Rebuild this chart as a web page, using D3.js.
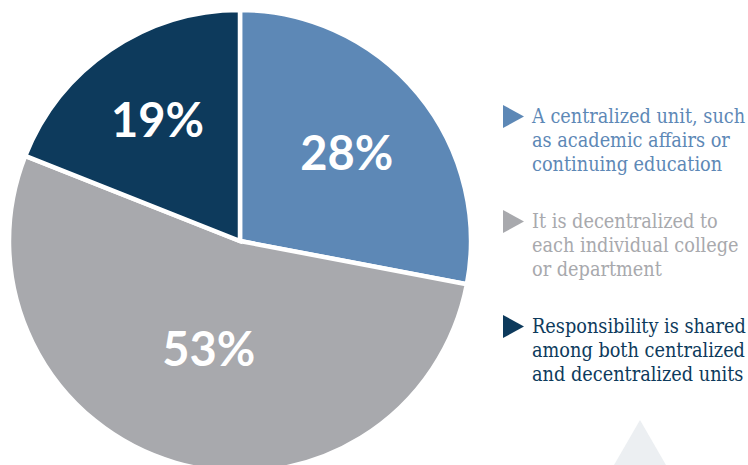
<!DOCTYPE html>
<html>
<head>
<meta charset="utf-8">
<script src="https://cdn.jsdelivr.net/npm/d3@7/dist/d3.min.js"></script>
<style>
  html, body { margin: 0; padding: 0; background: #ffffff; }
  svg { display: block; }
  .legend text { font-family: "DejaVu Serif", "Liberation Serif", serif; font-stretch: condensed; }
</style>
</head>
<body>
<svg id="chart" width="748" height="465"></svg>
<script>
// Survey responses: who is responsible for online/continuing programs
const categories = [
  "A centralized unit, such as academic affairs or continuing education",
  "It is decentralized to each individual college or department",
  "Responsibility is shared among both centralized and decentralized units"
];
const shares = [28, 53, 19];
const valueLabels = ["28%", "53%", "19%"];
const legendLines = [
  ["A centralized unit, such", "as academic affairs or", "continuing education"],
  ["It is decentralized to", "each individual college", "or department"],
  ["Responsibility is shared", "among both centralized", "and decentralized units"]
];

const colors = ["#5d88b6", "#a8a9ad", "#0d3a5c"];
const labelRadiusFactor = [0.60, 0.485, 0.635];

const svg = d3.select("#chart");
const cx = 240, cy = 241, R = 231;

const pie = d3.pie().sort(null).value(d => d)(shares);
const arc = d3.arc().innerRadius(0).outerRadius(R);

const g = svg.append("g").attr("transform", `translate(${cx},${cy})`);

g.selectAll("path.slice")
  .data(pie)
  .join("path")
  .attr("class", "slice")
  .attr("d", arc)
  .attr("fill", (d, i) => colors[i])
  .attr("stroke", "#ffffff")
  .attr("stroke-width", 4.5)
  .attr("stroke-linejoin", "miter");

g.selectAll("text.pct")
  .data(pie)
  .join("text")
  .attr("class", "pct")
  .attr("transform", (d, i) => {
    const r = R * labelRadiusFactor[i];
    const a = (d.startAngle + d.endAngle) / 2;
    return `translate(${Math.sin(a) * r},${-Math.cos(a) * r})`;
  })
  .attr("text-anchor", "middle")
  .attr("dy", "0.36em")
  .attr("fill", "#ffffff")
  .attr("font-family", "Lato, 'Open Sans', sans-serif")
  .attr("font-weight", 700)
  .attr("font-size", 47)
  .text((d, i) => valueLabels[i]);

// Decorative pale triangle in the lower right corner
const triX = 640, triTop = 420, triH = 60;
svg.append("path")
  .attr("d", d3.line()([[triX, triTop], [triX + triH / Math.sqrt(3), triTop + triH], [triX - triH / Math.sqrt(3), triTop + triH]]) + "Z")
  .attr("fill", "#eceff2");

// Legend
const legendY = d3.scalePoint().domain(d3.range(categories.length)).range([123, 333]);
const legend = svg.selectAll("g.legend")
  .data(categories)
  .join("g")
  .attr("class", "legend")
  .attr("transform", (d, i) => `translate(503,${legendY(i)})`);

legend.append("path")
  .attr("d", "M0,-18 L21,-6.5 L0,5 Z")
  .attr("fill", (d, i) => colors[i]);

const legendText = legend.append("text")
  .attr("x", 29)
  .attr("fill", (d, i) => colors[i])
  .attr("font-size", 20);

legendText.selectAll("tspan")
  .data((d, i) => legendLines[i])
  .join("tspan")
  .attr("x", 29)
  .attr("y", (d, j) => j * 24)
  .text(d => d);

// Fit the legend block so its widest line spans the available column
const maxW = d3.max(legendText.selectAll("tspan").nodes(), n => n.getComputedTextLength());
const targetW = 214;
legendText.attr("font-size", 20 * targetW / maxW);
</script>
</body>
</html>
